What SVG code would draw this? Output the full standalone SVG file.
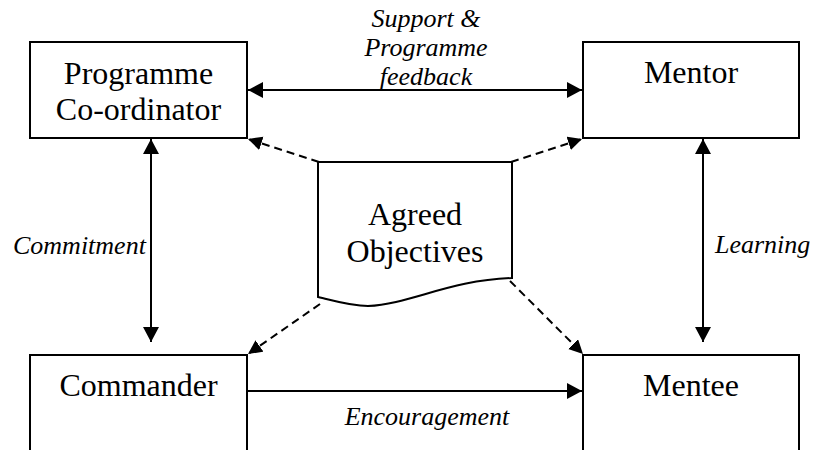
<svg xmlns="http://www.w3.org/2000/svg" width="813" height="450" viewBox="0 0 813 450">
<style>
.box{fill:#fff;stroke:#000;stroke-width:2}
.nt{font-family:'Liberation Serif','Times New Roman',Times,Tinos,serif;font-size:32px;fill:#000;text-anchor:middle}
.lb{font-family:'Liberation Serif','Times New Roman',Times,Tinos,serif;font-size:26px;font-style:italic;fill:#000}
.c{stroke:#000;stroke-width:2;fill:none}
.d{stroke:#000;stroke-width:2;fill:none;stroke-dasharray:8 5}
</style>
<defs>
<marker id="ah" markerUnits="userSpaceOnUse" markerWidth="16" markerHeight="16" refX="15" refY="8" orient="auto-start-reverse" viewBox="0 0 16 16">
<path d="M0,0 L15,8 L0,16 z" fill="#000"/>
</marker>
<marker id="ad" markerUnits="userSpaceOnUse" markerWidth="16" markerHeight="16" refX="14" refY="7" orient="auto" viewBox="0 0 16 16">
<path d="M0,0 L14,7 L0,14 z" fill="#000"/>
</marker>
</defs>
<g id="connectors">
<line class="c" x1="248" y1="90" x2="582" y2="90" marker-start="url(#ah)" marker-end="url(#ah)"/>
<line class="c" x1="248" y1="391" x2="582" y2="391" marker-end="url(#ah)"/>
<line class="c" x1="151" y1="139" x2="151" y2="342" marker-start="url(#ah)" marker-end="url(#ah)"/>
<line class="c" x1="703" y1="139" x2="703" y2="342" marker-start="url(#ah)" marker-end="url(#ah)"/>
<line class="d" x1="319" y1="162" x2="248" y2="139" marker-end="url(#ad)"/>
<line class="d" x1="511" y1="162" x2="582" y2="139" marker-end="url(#ad)"/>
<line class="d" x1="320" y1="304" x2="248" y2="354" marker-end="url(#ad)"/>
<line class="d" x1="510" y1="281" x2="583" y2="354" marker-end="url(#ad)"/>
<text class="lb" text-anchor="middle"><tspan x="426" y="27">Support &amp;</tspan><tspan x="426" y="56">Programme</tspan><tspan x="426" y="85">feedback</tspan></text>
<text class="lb" x="13" y="254">Commitment</text>
<text class="lb" x="715" y="253">Learning</text>
<text class="lb" x="427" y="425" text-anchor="middle">Encouragement</text>
</g>
<g id="coordinator">
<rect class="box" x="30" y="42" width="217" height="96"/>
<text class="nt"><tspan x="138.5" y="84">Programme</tspan><tspan x="138.5" y="120">Co-ordinator</tspan></text>
</g>
<g id="mentor">
<rect class="box" x="583" y="42" width="216" height="96"/>
<text class="nt" x="691" y="83">Mentor</text>
</g>
<g id="commander">
<rect class="box" x="30" y="355" width="217" height="120"/>
<text class="nt" x="138.5" y="396">Commander</text>
</g>
<g id="mentee">
<rect class="box" x="583" y="355" width="216" height="120"/>
<text class="nt" x="691" y="396">Mentee</text>
</g>
<g id="objectives">
<path class="box" d="M318,162 H512 V278 C450,280 410,304 368,306 C350,306 335,301 318,297 Z"/>
<text class="nt"><tspan x="415" y="225">Agreed</tspan><tspan x="415" y="262">Objectives</tspan></text>
</g>
</svg>
